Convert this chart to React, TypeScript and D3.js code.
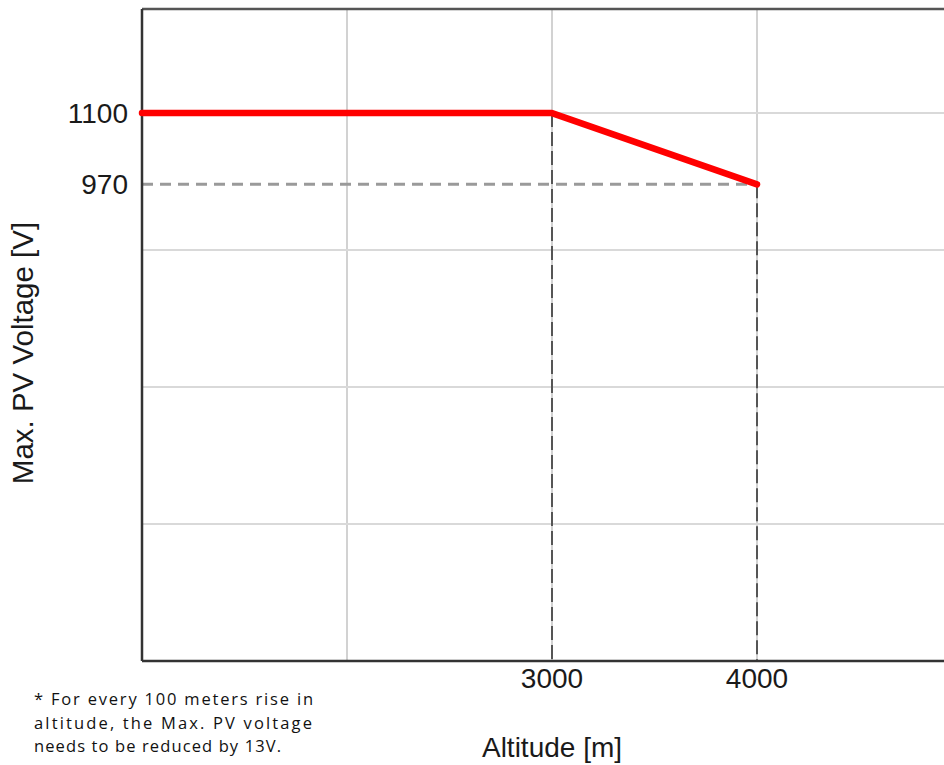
import React from "react";
import * as d3 from "d3";

const altitudes = [1000, 3000, 4000];
const maxVoltages = [1100, 1100, 970];
const xTickValues = [3000, 4000];
const xTickLabels = ["3000", "4000"];
const yTickValues = [1100, 970];
const yTickLabels = ["1100", "970"];
const xGridValues = [2000, 3000, 4000, 5000];
const yGridValues = [350, 600, 850, 1100];
const footnoteLines = [
  "* For every 100 meters rise in",
  "altitude, the Max. PV voltage",
  "needs to be reduced by 13V.",
];
const footnoteWidths = [279, 278, 247];

const W = 944;
const H = 765;
const left = 142;
const top = 9;
const bottom = 661;

export default function App() {
  const x = d3.scaleLinear().domain([1000, 5000]).range([left, 962]);
  const y = d3.scaleLinear().domain([100, 1290]).range([bottom, top]);
  const pts: [number, number][] = altitudes.map((a, i) => [x(a), y(maxVoltages[i])]);
  const line = d3.line();
  const font = "Arial, 'Liberation Sans', sans-serif";
  const last = altitudes.length - 1;
  return (
    <svg
      width={W}
      height={H}
      style={{ position: "absolute", left: 0, top: 0, background: "#fff" }}
    >
      {xGridValues.map((v) => (
        <line key={"xg" + v} x1={x(v)} x2={x(v)} y1={top} y2={bottom} stroke="#d2d2d2" strokeWidth={2} />
      ))}
      {yGridValues.map((v) => (
        <line key={"yg" + v} x1={left} x2={W} y1={y(v)} y2={y(v)} stroke="#d9d9d9" strokeWidth={2} />
      ))}
      <line
        x1={left}
        x2={x(altitudes[last])}
        y1={y(maxVoltages[last])}
        y2={y(maxVoltages[last])}
        stroke="#9a9a9a"
        strokeWidth={3}
        strokeDasharray="11 7"
      />
      {altitudes.slice(1).map((a, i) => (
        <line
          key={"vd" + a}
          x1={x(a)}
          x2={x(a)}
          y1={y(maxVoltages[i + 1])}
          y2={bottom}
          stroke="#555"
          strokeWidth={2}
          strokeDasharray="14 5"
        />
      ))}
      <line x1={left} x2={W} y1={top} y2={top} stroke="#555" strokeWidth={2.5} />
      <line x1={left} x2={left} y1={top} y2={bottom} stroke="#333" strokeWidth={2.5} />
      <line x1={left} x2={W} y1={bottom} y2={bottom} stroke="#333" strokeWidth={2.5} />
      <path d={line(pts) || ""} fill="none" stroke="#ff0000" strokeWidth={6.5} strokeLinecap="round" strokeLinejoin="round" />
      {yTickValues.map((v, i) => (
        <text key={"yt" + v} x={128} y={y(v)} dy="0.35em" textAnchor="end" fontFamily={font} fontSize={28} fill="#1a1a1a">
          {yTickLabels[i]}
        </text>
      ))}
      {xTickValues.map((v, i) => (
        <text key={"xt" + v} x={x(v)} y={688} textAnchor="middle" fontFamily={font} fontSize={28} fill="#1a1a1a">
          {xTickLabels[i]}
        </text>
      ))}
      <text x={552} y={757} textAnchor="middle" fontFamily={font} fontSize={28} fill="#1a1a1a">
        Altitude [m]
      </text>
      <text
        transform="translate(33,353) rotate(-90)"
        textAnchor="middle"
        fontFamily={font}
        fontSize={29.5}
        fill="#1a1a1a"
      >
        Max. PV Voltage [V]
      </text>
      {footnoteLines.map((t, i) => (
        <text
          key={"fn" + i}
          x={34}
          y={705 + i * 23.5}
          fontFamily="'Open Sans', sans-serif"
          fontSize={16.5}
          fill="#111"
          textLength={footnoteWidths[i]}
          lengthAdjust="spacing"
        >
          {t}
        </text>
      ))}
    </svg>
  );
}
